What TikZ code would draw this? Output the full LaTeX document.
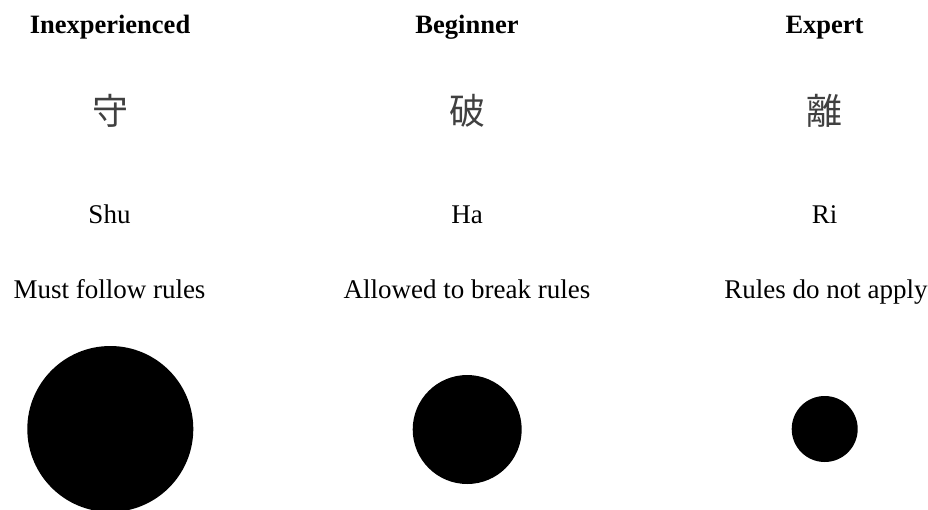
\documentclass[tikz,border=0pt]{standalone}
\usepackage{fontspec}
\setmainfont{Liberation Serif}
\newfontfamily\cjk{Noto Sans CJK JP}
\definecolor{kanjigray}{HTML}{404040}
\begin{document}
\begin{tikzpicture}[x=1pt,y=-1pt,
  title/.style={anchor=base,inner sep=0pt,font=\fontsize{26.5}{30}\selectfont\bfseries},
  kanji/.style={anchor=center,inner sep=0pt,text=kanjigray,font=\fontsize{36}{40}\selectfont\cjk},
  romaji/.style={anchor=base,inner sep=0pt,font=\fontsize{27}{30}\selectfont},
  desc/.style={anchor=base,inner sep=0pt,font=\fontsize{27}{30}\selectfont},
  dot/.style={circle,fill=black,inner sep=0pt}]
\useasboundingbox (0,0) rectangle (928,509);
\node[title] (t1) at (110,33) {Inexperienced};
\node[title] (t2) at (467,33) {Beginner};
\node[title] (t3) at (824.5,33) {Expert};
\node[kanji] (k1) at (110,111) {守};
\node[kanji] (k2) at (467,111) {破};
\node[kanji] (k3) at (824.5,111) {離};
\node[romaji] (r1) at (109.5,223) {Shu};
\node[romaji] (r2) at (467,223) {Ha};
\node[romaji] (r3) at (824.5,223) {Ri};
\node[desc] (d1) at (109.5,298) {Must follow rules};
\node[desc] (d2) at (467,298) {Allowed to break rules};
\node[desc] (d3) at (826,298) {Rules do not apply};
\node[dot,minimum size=166pt] (c1) at (110.3,429) {};
\node[dot,minimum size=109pt] (c2) at (467.2,429.5) {};
\node[dot,minimum size=66pt] (c3) at (824.7,429) {};
\end{tikzpicture}
\end{document}
